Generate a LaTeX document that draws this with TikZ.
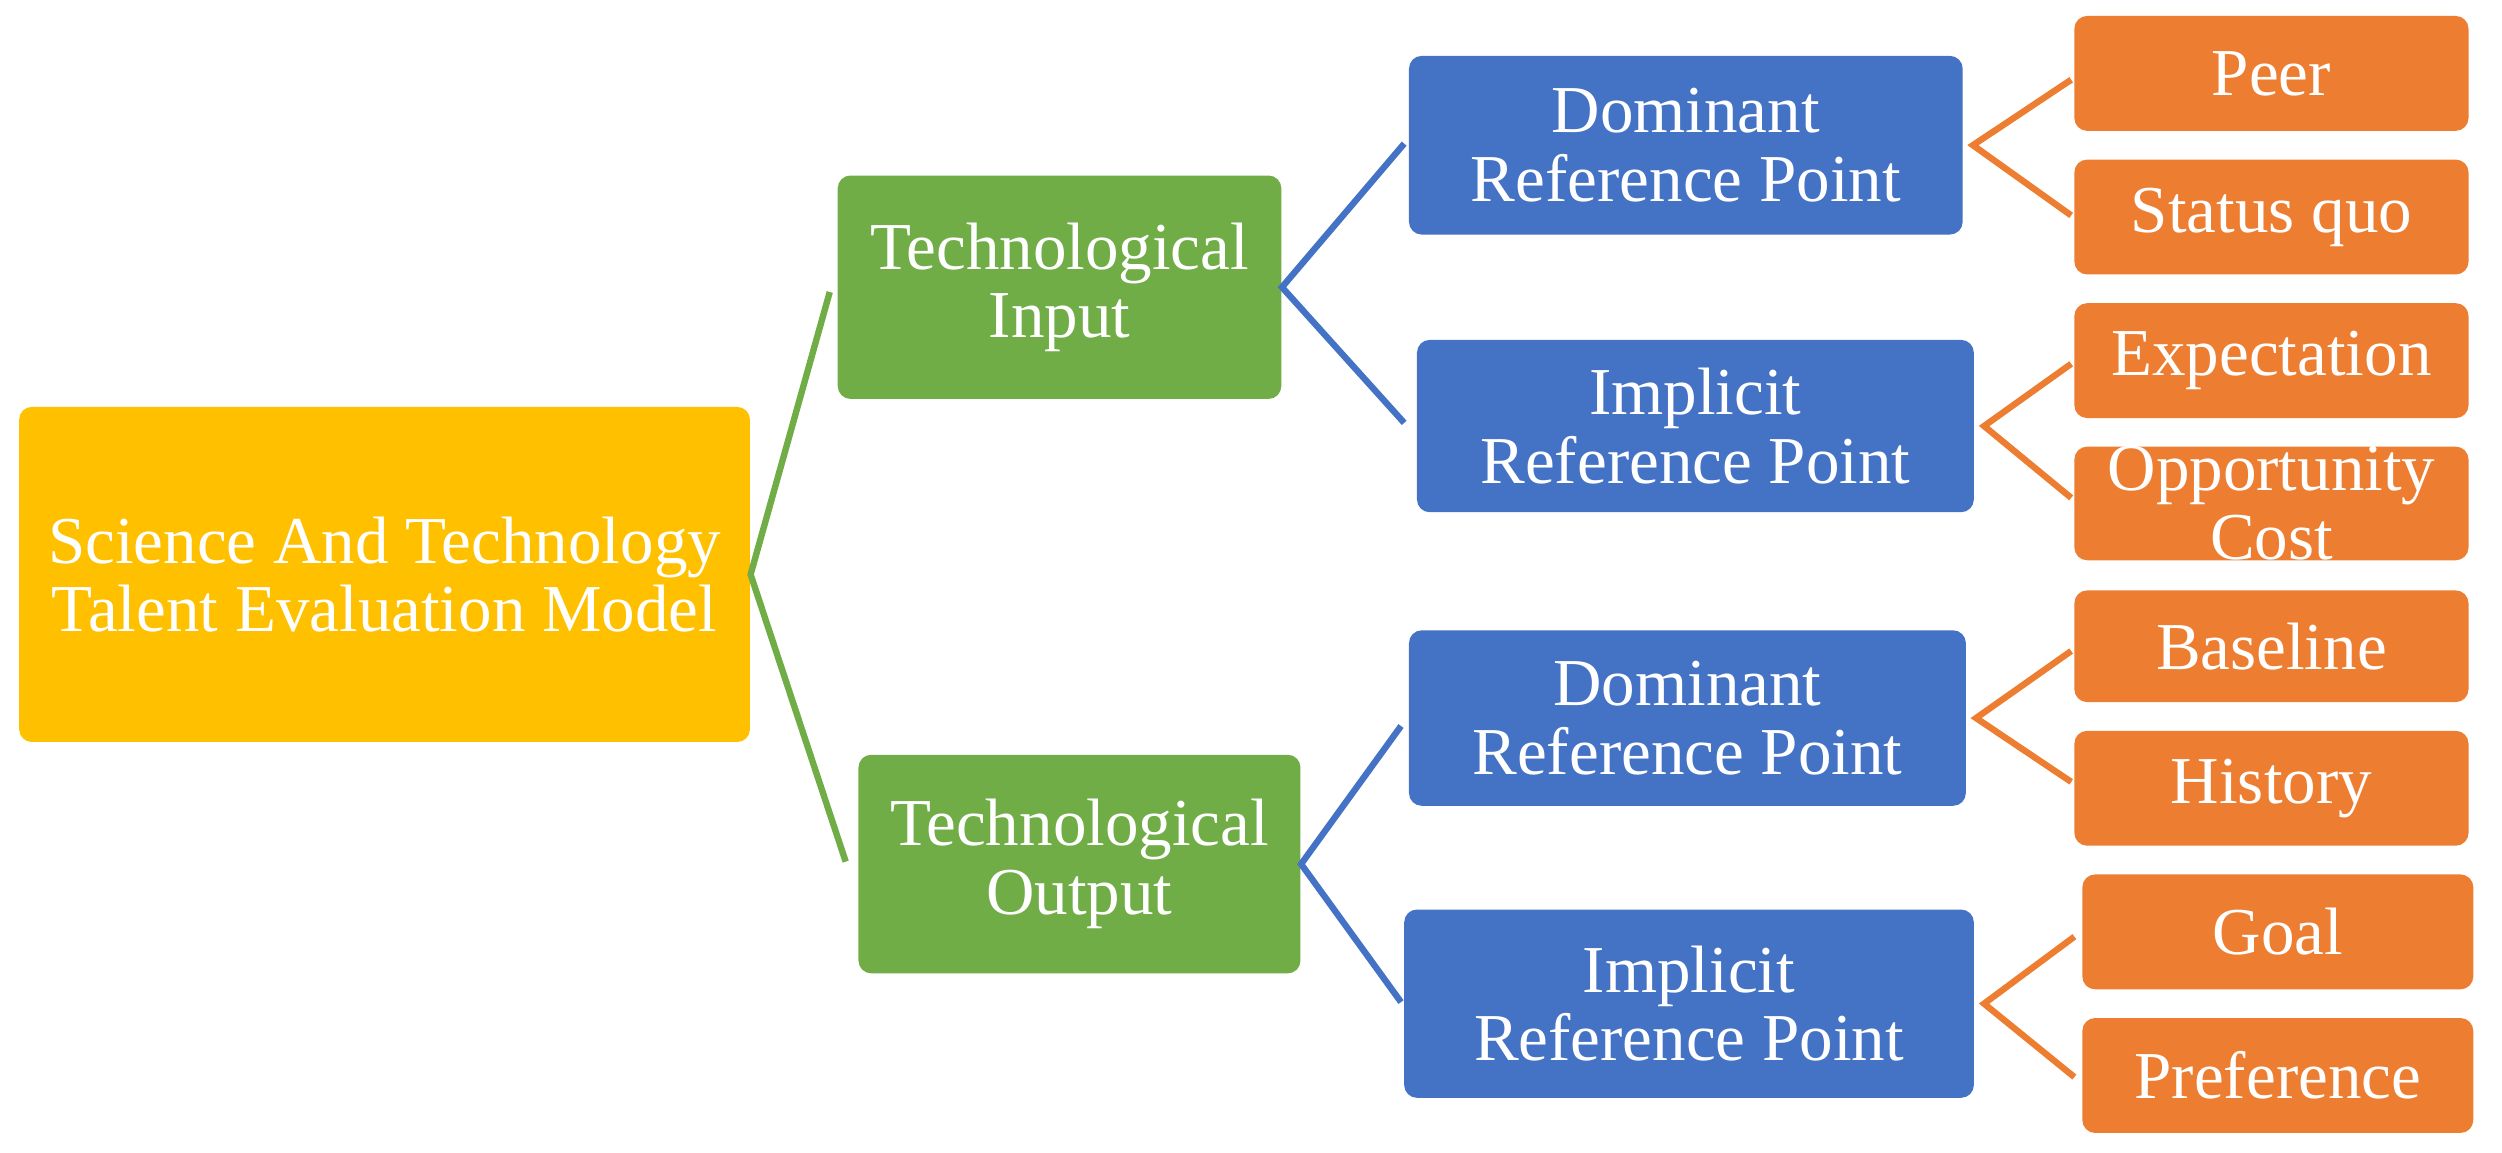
\documentclass[tikz,border=0pt]{standalone}
\usepackage{fontspec}
\setmainfont{Liberation Serif}
\begin{document}
\begin{tikzpicture}[x=0.5pt,y=-0.5pt,
  box/.style={rounded corners=4pt,draw=none,text=white,align=center,inner sep=0pt,
    font=\fontsize{21}{21.5}\selectfont},
  yel/.style={box,fill={rgb,255:red,255;green,192;blue,0}},
  grn/.style={box,fill={rgb,255:red,112;green,173;blue,71}},
  blu/.style={box,fill={rgb,255:red,68;green,114;blue,196}},
  org/.style={box,fill={rgb,255:red,237;green,125;blue,49}},
  gl/.style={draw={rgb,255:red,112;green,173;blue,71},line width=2pt},
  bl/.style={draw={rgb,255:red,68;green,114;blue,196},line width=2pt},
  ol/.style={draw={rgb,255:red,237;green,125;blue,49},line width=2pt}]
\useasboundingbox (0,0) rectangle (1568,722.5);
\newcommand\bx[7]{%
  \pgfmathsetmacro\ww{(#4-#2)*0.5}\pgfmathsetmacro\hh{(#5-#3)*0.5}%
  \node[#6,minimum width=\ww pt,minimum height=\hh pt] (#1) at ({(#2+#4)/2},{(#3+#5)/2}) {#7};}
\bx{root}{12}{255}{470}{465}{yel}{Science And Technology\\Talent Evaluation Model}
\bx{ti}{525}{110}{803}{250}{grn}{Technological\\Input}
\bx{to}{538}{473}{815}{610}{grn}{Technological\\Output}
\bx{d1}{883}{35}{1230}{147}{blu}{Dominant\\Reference Point}
\bx{i1}{888}{213}{1237}{321}{blu}{Implicit\\Reference Point}
\bx{d2}{883}{395}{1232}{505}{blu}{Dominant\\Reference Point}
\bx{i2}{880}{570}{1237}{688}{blu}{Implicit\\Reference Point}
\bx{peer}{1300}{10}{1547}{82}{org}{Peer}
\bx{sq}{1300}{100}{1547}{172}{org}{Status quo}
\bx{exp}{1300}{190}{1547}{262}{org}{Expectation}
\bx{oc}{1300}{280}{1547}{351}{org}{Opportunity\\Cost}
\bx{base}{1300}{370}{1547}{440}{org}{Baseline}
\bx{hist}{1300}{458}{1547}{530}{org}{History}
\bx{goal}{1305}{548}{1550}{620}{org}{Goal}
\bx{pref}{1305}{638}{1550}{710}{org}{Preference}
\coordinate (c1) at (520,183); \coordinate (c2) at (530,540);
\draw[gl] (c1) -- (root.east) -- (c2);
\coordinate (c3) at (880,90); \coordinate (c4) at (880,265);
\draw[bl] (c3) -- (ti.east) -- (c4);
\coordinate (c5) at (878,455); \coordinate (c6) at (878,628);
\draw[bl] (c5) -- (to.east) -- (c6);
\coordinate (o1) at (1298,50); \coordinate (o2) at (1298,135);
\draw[ol] (o1) -- ([xshift=3]d1.east) -- (o2);
\coordinate (o3) at (1298,228); \coordinate (o4) at (1298,312);
\draw[ol] (o3) -- ([xshift=3]i1.east) -- (o4);
\coordinate (o5) at (1298,408); \coordinate (o6) at (1298,490);
\draw[ol] (o5) -- ([xshift=3]d2.east) -- (o6);
\coordinate (o7) at (1300,587); \coordinate (o8) at (1300,675);
\draw[ol] (o7) -- ([xshift=3]i2.east) -- (o8);
\end{tikzpicture}
\end{document}
